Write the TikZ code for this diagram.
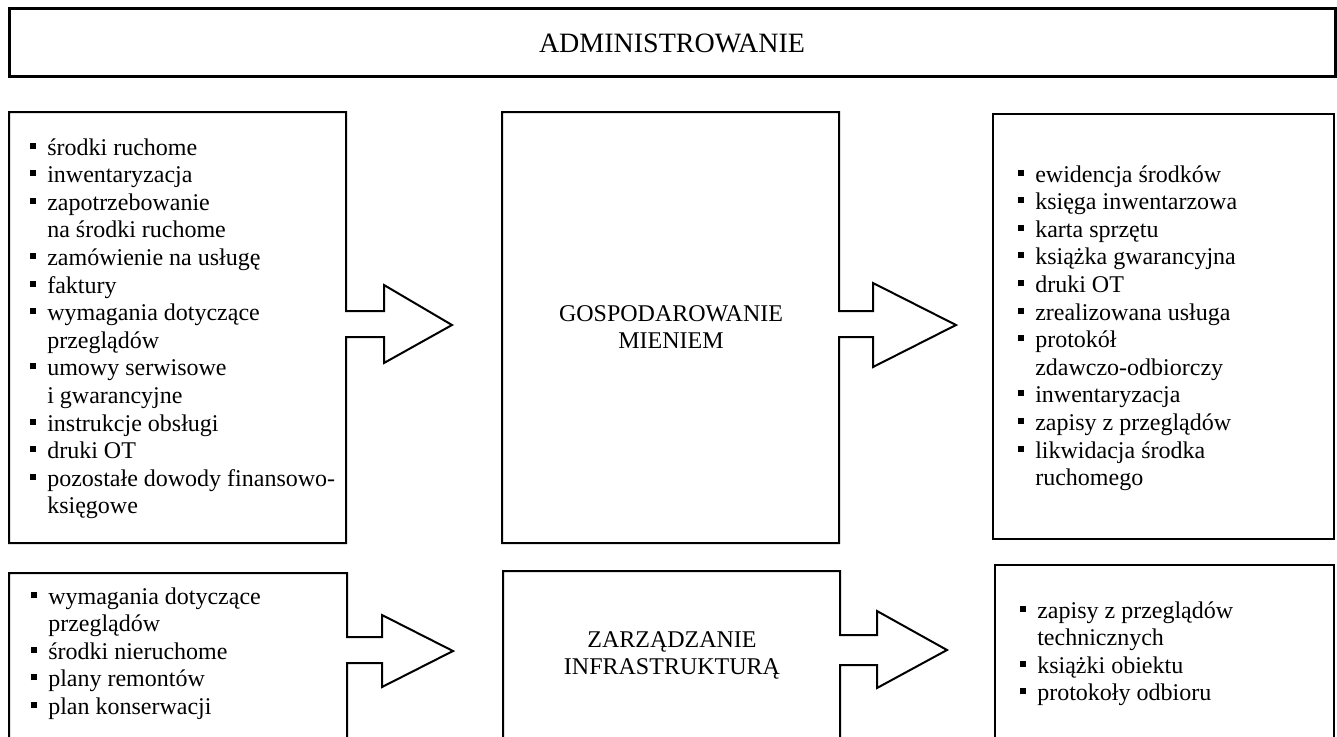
\documentclass[tikz,border=0pt]{standalone}
\usepackage{fontspec}
\setmainfont{Liberation Serif}
\newcommand{\bul}{\makebox[12.75pt][l]{\rule[4.8pt]{4.5pt}{4.5pt}}}
\newcommand{\cont}{\hspace*{12.75pt}}
\newcommand{\bodyfont}{\fontsize{18pt}{20.7pt}\selectfont}
\newcommand{\titlefont}{\fontsize{21pt}{24pt}\selectfont}
\begin{document}
\begin{tikzpicture}[x=0.75pt,y=-0.75pt,
  frame/.style={draw=black, line width=1.5pt, line join=miter},
  titleframe/.style={draw=black, line width=2.25pt},
  listtext/.style={anchor=base west, inner sep=0pt, font=\bodyfont},
  centertext/.style={anchor=base, inner sep=0pt, font=\bodyfont}]
\useasboundingbox (0,0) rectangle (1337,736);
\clip (0,0) rectangle (1337,736);
\fill[white] (0,0) rectangle (1337,736);

% title
\draw[titleframe] (9,8) rectangle (1335,76);
\node[anchor=base, inner sep=0pt, font=\titlefont] (title) at (672,52) {ADMINISTROWANIE};

% row 1
\draw[frame] (9,112) -- (346,112) -- (346,311) -- (384,311) -- (384,285) -- (452,325)
  -- (384,363) -- (384,337) -- (346,337) -- (346,543) -- (9,543) -- cycle;
\draw[frame] (502,112) -- (839,112) -- (839,311) -- (873,311) -- (873,283) -- (956,325)
  -- (873,367) -- (873,337) -- (839,337) -- (839,543) -- (502,543) -- cycle;
\draw[frame] (993,114) rectangle (1334,539);

\node[listtext] (in1) at (30,155) {\parbox[t]{330pt}{\raggedright
\bul środki ruchome\\
\bul inwentaryzacja\\
\bul zapotrzebowanie\\
\cont na środki ruchome\\
\bul zamówienie na usługę\\
\bul faktury\\
\bul wymagania dotyczące\\
\cont przeglądów\\
\bul umowy serwisowe\\
\cont i gwarancyjne\\
\bul instrukcje obsługi\\
\bul druki OT\\
\bul pozostałe dowody finansowo-\\
\cont księgowe}};

\node[centertext] (gm) at (671,321) {\parbox[t]{225pt}{\centering GOSPODAROWANIE\\MIENIEM}};

\node[listtext] (out1) at (1018,182) {\parbox[t]{330pt}{\raggedright
\bul ewidencja środków\\
\bul księga inwentarzowa\\
\bul karta sprzętu\\
\bul książka gwarancyjna\\
\bul druki OT\\
\bul zrealizowana usługa\\
\bul protokół\\
\cont zdawczo-odbiorczy\\
\bul inwentaryzacja\\
\bul zapisy z przeglądów\\
\bul likwidacja środka\\
\cont ruchomego}};

% row 2
\draw[frame] (9,745) -- (9,573) -- (347,573) -- (347,637) -- (382,637) -- (382,615) -- (453,651)
  -- (382,687) -- (382,663) -- (347,663) -- (347,745);
\draw[frame] (503,745) -- (503,571) -- (840,571) -- (840,635) -- (877,635) -- (877,611) -- (947,650)
  -- (877,688) -- (877,665) -- (840,665) -- (840,745);
\draw[frame] (995,745) -- (995,565) -- (1334,565) -- (1334,745);

\node[listtext] (in2) at (31,604) {\parbox[t]{330pt}{\raggedright
\bul wymagania dotyczące\\
\cont przeglądów\\
\bul środki nieruchome\\
\bul plany remontów\\
\bul plan konserwacji}};

\node[centertext] (zi) at (672,647) {\parbox[t]{225pt}{\centering ZARZĄDZANIE\\INFRASTRUKTURĄ}};

\node[listtext] (out2) at (1020,618) {\parbox[t]{330pt}{\raggedright
\bul zapisy z przeglądów\\
\cont technicznych\\
\bul książki obiektu\\
\bul protokoły odbioru}};
\end{tikzpicture}
\end{document}
